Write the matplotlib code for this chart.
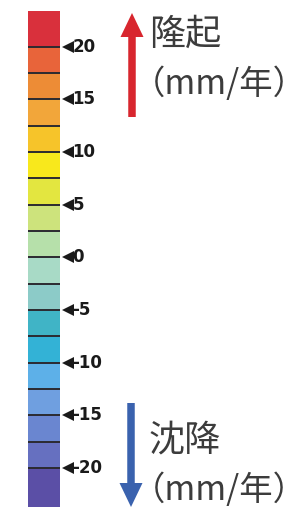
import matplotlib
matplotlib.use("Agg")
import matplotlib.pyplot as plt
import numpy as np
from matplotlib.colors import ListedColormap, BoundaryNorm
from matplotlib.patches import FancyArrow
import matplotlib.transforms as mtransforms

plt.rcParams['font.family'] = ['Noto Sans CJK JP', 'DejaVu Sans']

# data
bounds = [-23.7, -20, -17.5, -15, -12.5, -10, -7.5, -5, -2.5, 0,
          2.5, 5, 7.5, 10, 12.5, 15, 17.5, 20, 23.4]
cell_colors = ['#5b4fa6', '#6670c0', '#6a86d0', '#6f9fe0', '#5db0e8',
               '#33b2d6', '#40b4c6', '#8ccbc8', '#a8dac6', '#b6e0aa',
               '#cde37c', '#e3e640', '#f8e81c', '#f6c42a', '#f2a63a',
               '#ed8c36', '#e8643a', '#d9303c']
tick_values = [20, 15, 10, 5, 0, -5, -10, -15, -20]
tick_labels = ['20', '15', '10', '5', '0', '-5', '-10', '-15', '-20']
up_label = ['隆起', '（mm/年）']
down_label = ['沈降', '（mm/年）']

W, H = 306, 507
fig = plt.figure(figsize=(W / 100, H / 100), dpi=100)
fig.patch.set_facecolor('white')

# colorbar axes (pixel placement)
bx0, bx1, by0, by1 = 28, 60, 11, 507
ax = fig.add_axes([bx0 / W, 1 - by1 / H, (bx1 - bx0) / W, (by1 - by0) / H])
cmap = ListedColormap(cell_colors)
norm = BoundaryNorm(bounds, cmap.N)
mids = [(bounds[i] + bounds[i + 1]) / 2 for i in range(len(bounds) - 1)]
X, Y = np.meshgrid([0, 1], bounds)
ax.pcolormesh(X, Y, np.array(mids)[:, None], cmap=cmap, norm=norm, shading='flat')
ax.set_xlim(0, 1)
ax.set_ylim(bounds[0], bounds[-1])
for b in bounds[1:-1]:
    ax.axhline(b, color='#2b2a30', lw=1.4)
for s in ax.spines.values():
    s.set_visible(False)
ax.set_xticks([])
ax.set_yticks([])

trans = mtransforms.blended_transform_factory(ax.transAxes, ax.transData)
w = bx1 - bx0
for v, lab in zip(tick_values, tick_labels):
    ax.plot([(67.5 - bx0) / w], [v], marker='<', color='#1a1a1a', markersize=8.2,
            markeredgewidth=0, transform=trans, clip_on=False)
    ax.text((72.5 - bx0) / w, v, lab, transform=trans, ha='left', va='center',
            fontsize=12, fontweight='bold', color='#1a1a1a',
            family=['DejaVu Sans'])

# overlay for arrows and text
ov = fig.add_axes([0, 0, 1, 1])
ov.set_xlim(0, W)
ov.set_ylim(H, 0)
ov.axis('off')
ov.patch.set_alpha(0)

ov.add_patch(FancyArrow(132, 117, 0, -104, width=7.5, head_width=23,
                        head_length=24, length_includes_head=True,
                        color='#d8262e', lw=0))
ov.add_patch(FancyArrow(131, 403, 0, 104, width=7.5, head_width=23,
                        head_length=24, length_includes_head=True,
                        color='#3a62ae', lw=0))

tc = '#3c3c3c'
ov.text(149, 35, up_label[0], fontsize=26, color=tc, ha='left', va='center')
ov.text(132, 85, up_label[1], fontsize=24, color=tc, ha='left', va='center')
ov.text(149, 440, down_label[0], fontsize=26, color=tc, ha='left', va='center')
ov.text(132, 490, down_label[1], fontsize=24, color=tc, ha='left', va='center')

fig.savefig('out.png', dpi=100, facecolor='white')
